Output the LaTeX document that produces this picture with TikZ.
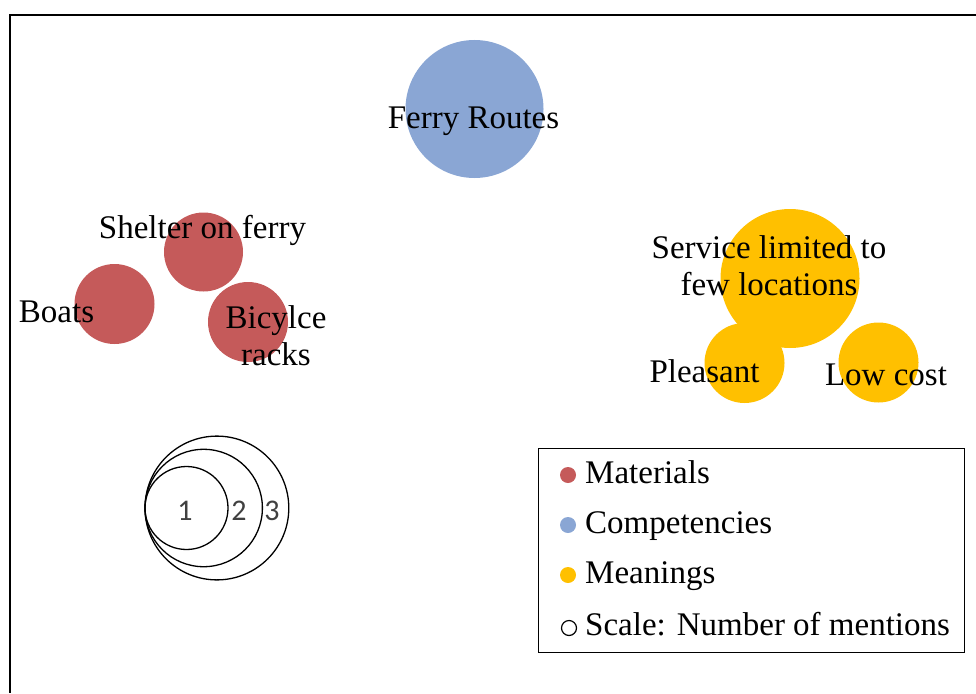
\documentclass[tikz,border=0pt]{standalone}
\usepackage{fontspec}
\setmainfont{Liberation Serif}
\newfontfamily\digitfont{Carlito}
\definecolor{matred}{HTML}{C55A5A}
\definecolor{compblue}{HTML}{8AA6D4}
\definecolor{meanyellow}{HTML}{FFC000}
\definecolor{scalegray}{HTML}{404040}
\begin{document}
\begin{tikzpicture}[x=1pt,y=-1pt,
  bubble/.style={circle,draw=none,inner sep=0pt,minimum size=#1},
  lbl/.style={inner sep=0pt,anchor=base,align=center,font=\fontsize{33}{37.5}\selectfont},
  legtext/.style={inner sep=0pt,anchor=base west,font=\fontsize{33}{37.5}\selectfont},
  legdot/.style={circle,inner sep=0pt,minimum size=16pt},
  ring/.style={draw=black,line width=1.3pt},
  digit/.style={inner sep=0pt,text=scalegray,font=\digitfont\fontsize{30}{32}\selectfont}]
  \useasboundingbox (0,0) rectangle (976,693);

  % frame
  \draw[line width=1.3pt] (976,15) -- (10,15) -- (10,693);

  % competencies
  \node[bubble=138pt,fill=compblue] (ferry) at (474.5,109) {};
  % materials
  \node[bubble=79pt,fill=matred] (shelter) at (203.5,252) {};
  \node[bubble=80pt,fill=matred] (boats) at (114.5,304) {};
  \node[bubble=80pt,fill=matred] (bike) at (248,322) {};
  % meanings
  \node[bubble=139pt,fill=meanyellow] (service) at (790,278.5) {};
  \node[bubble=80pt,fill=meanyellow] (pleasant) at (744.5,363) {};
  \node[bubble=80pt,fill=meanyellow] (lowcost) at (878.5,362.5) {};

  % bubble labels (base anchor of a two-line label sits on its last line)
  \node[lbl] (ferryl) at (473.5,128) {Ferry Routes};
  \node[lbl] (shelterl) at (202.5,238) {Shelter on ferry};
  \node[lbl] (boatsl) at (56.5,322) {Boats};
  \node[lbl] (bikel) at (276,365.5) {Bicylce\\racks};
  \node[lbl] (servicel) at (769,295.5) {Service limited to\\few locations};
  \node[lbl] (pleasantl) at (704.5,382) {Pleasant};
  \node[lbl] (lowcostl) at (886,385) {Low cost};

  % size scale
  \draw[ring] (145,508) arc[start angle=180,end angle=-180,radius=71.9];
  \draw[ring] (145,508) arc[start angle=180,end angle=-180,radius=58.7];
  \draw[ring] (145,508) arc[start angle=180,end angle=-180,radius=41.5];
  \node[digit] (one) at (185,511) {1};
  \node[digit] (two) at (239,511) {2};
  \node[digit] (three) at (272,511) {3};

  % legend
  \node[draw=black,line width=1pt,minimum width=426pt,minimum height=204pt,inner sep=0pt] (legend) at (751,550) {};
  \node[legdot,fill=matred] (dm) at (568,475) {};
  \node[legdot,fill=compblue] (dc) at (568,525) {};
  \node[legdot,fill=meanyellow] (dy) at (568,575) {};
  \node[circle,inner sep=0pt,minimum size=15pt,draw=black,line width=1.2pt] (ds) at (569,628) {};
  \node[legtext] (tm) at (585,483) {Materials};
  \node[legtext] (tc) at (585,533) {Competencies};
  \node[legtext] (ty) at (585,583) {Meanings};
  \node[legtext] (ts) at (585,635) {Scale: Number of mentions};
\end{tikzpicture}
\end{document}
